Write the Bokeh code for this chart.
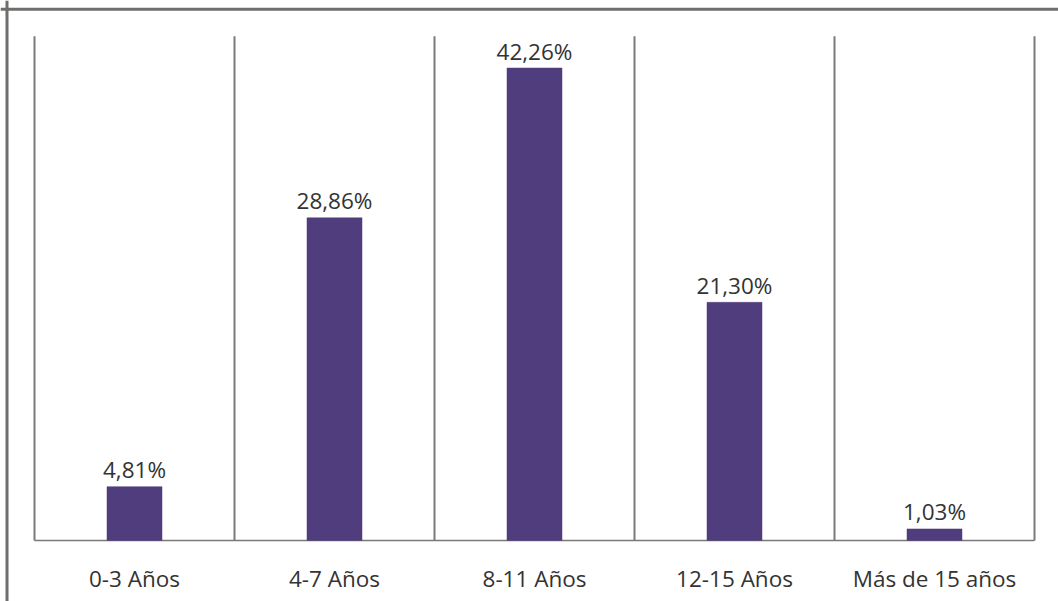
from bokeh.plotting import figure
from bokeh.models import Range1d, ColumnDataSource, Span
from bokeh.core.properties import value
from bokeh.embed import file_html
from bokeh.resources import INLINE

# Data
categories = ["0-3 Años", "4-7 Años", "8-11 Años", "12-15 Años", "Más de 15 años"]
shares = [4.81, 28.86, 42.26, 21.30, 1.03]
labels = ["4,81%", "28,86%", "42,26%", "21,30%", "1,03%"]
y_top = 45.1  # top of the category divider lines

W, H = 1058, 601
BAR_COLOR = "#503d7d"
TEXT_COLOR = "#333333"
LINE_COLOR = "#7a7a7a"
FONT = value("Open Sans")

xs = list(range(len(categories)))

p = figure(width=W, height=H, output_backend="svg", toolbar_location=None,
           x_range=Range1d(-0.67, 4.62), y_range=Range1d(-5.46, 48.3),
           min_border=0, min_border_left=0, min_border_right=0,
           min_border_top=0, min_border_bottom=0)
p.axis.visible = False
p.grid.visible = False
p.outline_line_color = None
p.background_fill_color = "white"
p.border_fill_color = "white"

# outer frame (top and left edges)
p.add_layout(Span(location=47.52, dimension="width", line_color="#6d6f6b", line_width=3))
p.add_layout(Span(location=-0.6375, dimension="height", line_color="#6d6f6b", line_width=3))

# category dividers and baseline
div_x = [i - 0.5 for i in range(len(categories) + 1)]
p.segment(x0=div_x, y0=[0] * len(div_x), x1=div_x, y1=[y_top] * len(div_x),
          line_color=LINE_COLOR, line_width=2)
p.segment(x0=[div_x[0]], y0=[0], x1=[div_x[-1]], y1=[0],
          line_color=LINE_COLOR, line_width=1.5)

src = ColumnDataSource(dict(x=xs, share=shares, label=labels, cat=categories))

p.vbar(x="x", top="share", bottom=0, width=0.275, source=src,
       fill_color=BAR_COLOR, line_color=BAR_COLOR, line_width=0.5)

# value labels above bars
p.text(x="x", y="share", text="label", source=src, text_font=FONT,
       text_font_size="22.5px", text_color=TEXT_COLOR, text_align="center",
       text_baseline="alphabetic", y_offset=-17)

# category labels under the baseline
p.text(x="x", y=0, text="cat", source=src, text_font=FONT,
       text_font_size="22.5px", text_color=TEXT_COLOR, text_align="center",
       text_baseline="middle", y_offset=38)

open("out.html", "w").write(file_html(p, INLINE))
